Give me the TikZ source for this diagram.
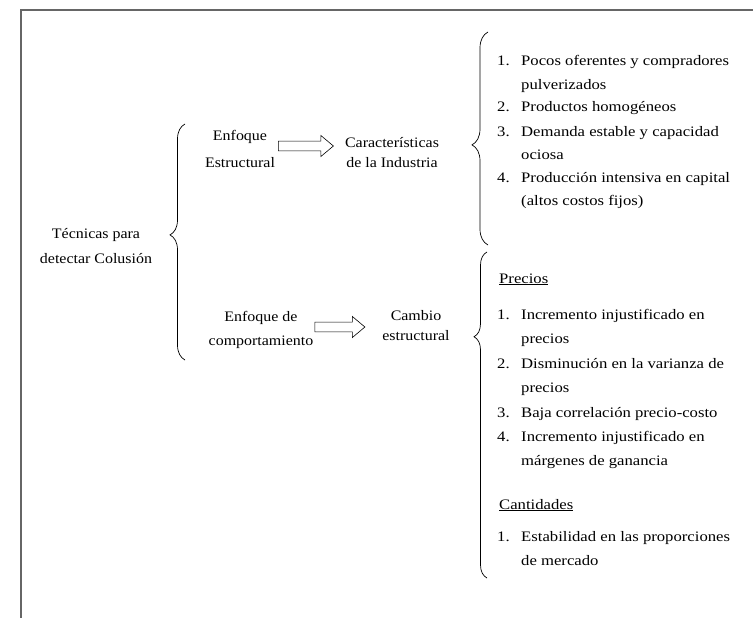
\documentclass[tikz,border=0pt]{standalone}
\usepackage{fontspec}
\setmainfont{Liberation Serif}[FakeStretch=1.1]
\newfontfamily\ancha{Liberation Serif}[FakeStretch=1.15]
\usetikzlibrary{shapes.arrows,decorations.pathreplacing}

\tikzset{
  txt/.style={font=\fontsize{14.5}{#1}\selectfont, align=center, inner sep=0pt},
  txt/.default=20,
  num/.style={font=\ancha\fontsize{14.5}{17}\selectfont, anchor=base west, inner sep=0pt},
  flecha/.style={single arrow, draw, line width=0.6pt, inner sep=4pt,
    minimum width=21pt, single arrow tip angle=80, single arrow head extend=5pt},
  llave/.style={decorate, decoration={brace, amplitude=#1}, line width=0.7pt},
}

\begin{document}
\begin{tikzpicture}[x=1pt,y=-1pt]
  \useasboundingbox (0,0) rectangle (753,618);
  % marco
  \draw[gray!80!black, line width=1.6pt] (753,10) -- (21,10) -- (21,618);

  % textos de la izquierda y del centro
  \node[txt=25] (tecnicas) at (96,246) {Técnicas para\\detectar Colusión};
  \node[txt=27] (estruct) at (240,149) {Enfoque\\Estructural};
  \node[txt=20] (caract) at (392,153) {Características\\de la Industria};
  \node[txt=24] (comport) at (261,330) {Enfoque de\\comportamiento};
  \node[txt=20] (cambio) at (416,326) {Cambio\\estructural};

  % flechas huecas
  \node[flecha, minimum height=55pt] (f1) at (303,146) {};
  \node[flecha, minimum height=50pt] (f2) at (337,327) {};

  % llaves
  \draw[llave=15pt, decoration={aspect=0.53}] (185,360) -- (185,124);
  \draw[llave=16pt, decoration={aspect=0.47}] (488,245) -- (488,32);
  \draw[llave=13pt, decoration={aspect=0.74}] (487,578) -- (487,252);

  % caracteristicas de la industria
  \foreach \y/\n/\t [count=\k] in {66/1./Pocos oferentes y compradores,
      89//pulverizados, 112/2./Productos homogéneos,
      136/3./Demanda estable y capacidad, 159//ociosa,
      182/4./Producción intensiva en capital, 205//(altos costos fijos)}
  {
    \node[num] (a\k) at (497,\y) {\n};
    \node[num] (t\k) at (521,\y) {\t};
  }

  % cambio estructural
  \node[num] (precios) at (499,283) {\underline{Precios}};
  \foreach \y/\n/\t [count=\k] in {319/1./Incremento injustificado en,
      343//precios, 368/2./Disminución en la varianza de, 392//precios,
      417/3./Baja correlación precio-costo,
      441/4./Incremento injustificado en, 465//márgenes de ganancia}
  {
    \node[num] (b\k) at (497,\y) {\n};
    \node[num] (p\k) at (521,\y) {\t};
  }
  \node[num] (cantidades) at (499,509) {\underline{Cantidades}};
  \node[num] (c1) at (497,541) {1.};
  \node[num] (q1) at (521,541) {Estabilidad en las proporciones};
  \node[num] (q2) at (521,565) {de mercado};
\end{tikzpicture}
\end{document}
